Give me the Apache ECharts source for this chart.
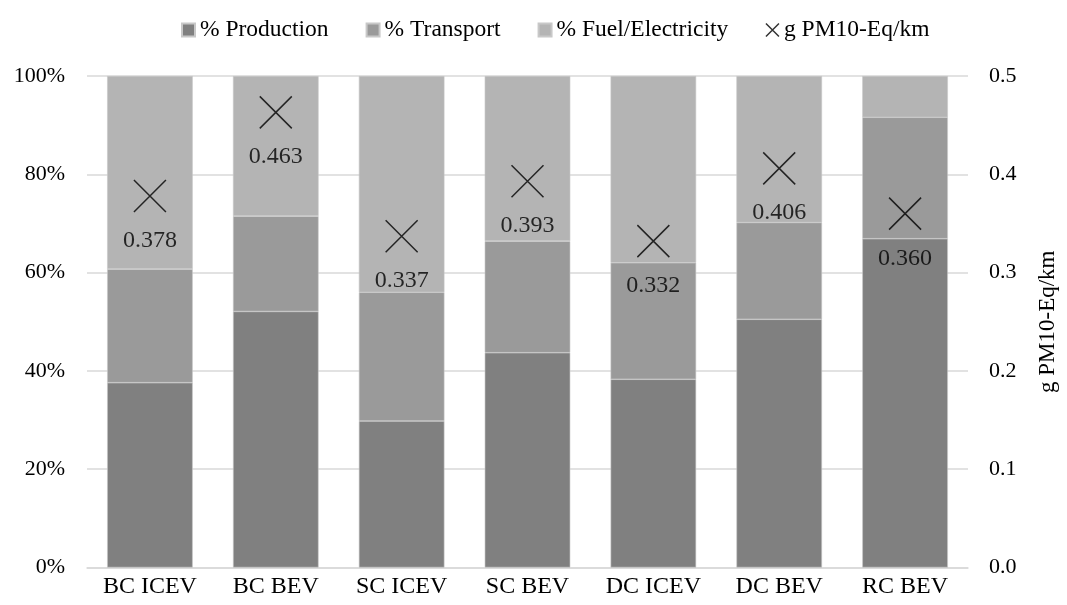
<!DOCTYPE html>
<html>
<head>
<meta charset="utf-8">
<script src="https://cdn.jsdelivr.net/npm/echarts@6/dist/echarts.min.js"></script>
<style>
  html, body { margin: 0; padding: 0; background: #fff; }
  #chart { width: 1067px; height: 605px; }
</style>
</head>
<body>
<div id="chart"></div>
<script>
// Vehicle categories on the x axis
const categories = ['BC ICEV', 'BC BEV', 'SC ICEV', 'SC BEV', 'DC ICEV', 'DC BEV', 'RC BEV'];

// Share of impact by life-cycle stage (%)
const production = [37.6, 52.1, 29.8, 43.7, 38.3, 50.5, 66.9];
const transport  = [23.1, 19.4, 26.2, 22.7, 23.7, 19.7, 24.7];
const fuelElec   = [39.3, 28.5, 44.0, 33.6, 38.0, 29.8, 8.4];

// Total particulate matter formation per km
const pm10 = [0.378, 0.463, 0.337, 0.393, 0.332, 0.406, 0.360];

const FONT = '"Liberation Serif", "DejaVu Serif", serif';
const crossPath = 'path://M0,0L10,10M10,0L0,10';

const chart = echarts.init(document.getElementById('chart'), null, { renderer: 'canvas' });

const barSeries = (name, data, color) => ({
  name, type: 'bar', stack: 'share', data,
  yAxisIndex: 0,
  barCategoryGap: '32%',
  itemStyle: { color, borderColor: '#c8c8c8', borderWidth: 0.6 },
  emphasis: { disabled: true }
});

chart.setOption({
  animation: false,
  textStyle: { fontFamily: FONT, color: '#000' },
  legend: {
    top: 13,
    left: 176,
    itemGap: 37,
    itemWidth: 13,
    itemHeight: 13,
    textStyle: { fontFamily: FONT, fontSize: 23.5, color: '#000' },
    data: [
      { name: '% Production', icon: 'rect' },
      { name: '% Transport', icon: 'rect' },
      { name: '% Fuel/Electricity', icon: 'rect' },
      { name: 'g PM10-Eq/km', icon: crossPath, itemStyle: { color: 'transparent', borderColor: '#000', borderWidth: 1.5 } }
    ]
  },
  grid: { left: 87, right: 91, top: 76, bottom: 37.5 },
  xAxis: {
    type: 'category',
    data: categories,
    axisTick: { show: false },
    axisLine: { lineStyle: { color: '#d9d9d9', width: 1.5 } },
    axisLabel: { fontFamily: FONT, fontSize: 24, color: '#000', margin: 7 }
  },
  yAxis: [
    {
      type: 'value', min: 0, max: 100, interval: 20,
      axisLabel: { formatter: '{value}%', fontFamily: FONT, fontSize: 22, color: '#000', margin: 22 },
      splitLine: { lineStyle: { color: '#d9d9d9', width: 1.5 } },
      axisLine: { show: false }, axisTick: { show: false }
    },
    {
      type: 'value', min: 0, max: 0.5, interval: 0.1,
      position: 'right',
      name: 'g PM10-Eq/km',
      nameLocation: 'middle',
      nameGap: 68,
      nameRotate: 90,
      nameTextStyle: { fontFamily: FONT, fontSize: 23, color: '#000' },
      axisLabel: { formatter: v => v.toFixed(1), fontFamily: FONT, fontSize: 22, color: '#000', margin: 21 },
      splitLine: { show: false },
      axisLine: { show: false }, axisTick: { show: false }
    }
  ],
  series: [
    barSeries('% Production', production, '#808080'),
    barSeries('% Transport', transport, '#9a9a9a'),
    barSeries('% Fuel/Electricity', fuelElec, '#b4b4b4'),
    {
      name: 'g PM10-Eq/km',
      type: 'scatter',
      yAxisIndex: 1,
      data: pm10,
      symbol: crossPath,
      symbolSize: 32,
      itemStyle: { color: 'transparent', borderColor: '#000', borderWidth: 1.5 },
      label: {
        show: true,
        position: 'bottom',
        distance: 16,
        formatter: p => p.value.toFixed(3),
        fontFamily: FONT,
        fontSize: 24,
        color: '#000'
      },
      emphasis: { disabled: true }
    }
  ]
});
</script>
</body>
</html>
